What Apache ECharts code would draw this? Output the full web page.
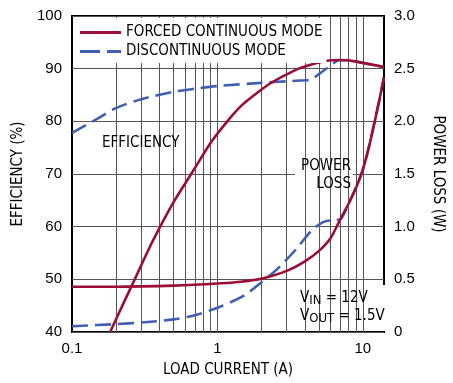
<!DOCTYPE html>
<html>
<head>
<meta charset="utf-8">
<script src="https://cdn.jsdelivr.net/npm/echarts@6/dist/echarts.min.js"></script>
<style>
  html, body { margin: 0; padding: 0; background: #fff; }
  #chart { width: 453px; height: 383px; }
</style>
</head>
<body>
<div id="chart"></div>
<script>
// efficiency / power loss vs load current
var NARROW = "'DejaVu Sans Condensed', 'Liberation Sans Narrow', sans-serif";
var REGULAR = "'Liberation Sans', Arial, sans-serif";

// forced continuous mode
var fccmEffCurrent = [0.183, 0.27, 0.404, 0.66, 1.17, 2, 3, 4.2, 7, 10, 14];
var fccmEff        = [40, 50, 60, 70, 80, 86, 88.9, 90.6, 91.65, 91.1, 90.3];
var fccmLossCurrent = [0.1, 0.2, 0.5, 1, 1.5, 2, 3, 4, 5, 6, 7, 8, 9, 10, 11, 12, 13, 14];
var fccmLoss        = [0.43, 0.43, 0.44, 0.46, 0.48, 0.505, 0.58, 0.67, 0.77, 0.89, 1.07, 1.22, 1.37, 1.54, 1.75, 1.98, 2.2, 2.42];

// discontinuous mode (joins the forced curves above ~7A)
var dcmEffCurrent = [0.1, 0.15, 0.2, 0.3, 0.5, 0.7, 1, 2, 3, 4, 4.4, 4.8, 5.3, 5.9, 6.9, 8, 10, 14];
var dcmEff        = [77.8, 80.5, 82.5, 84.2, 85.6, 86.2, 86.7, 87.3, 87.6, 87.8, 87.9, 88.6, 89.5, 90.4, 91.6, 91.6, 91.1, 90.3];
var dcmLossCurrent = [0.1, 0.2, 0.3, 0.5, 0.7, 1, 1.5, 2, 2.5, 3, 3.5, 4, 4.5, 5, 5.5, 6, 6.5, 7, 8, 10, 12, 14];
var dcmLoss        = [0.055, 0.075, 0.09, 0.12, 0.16, 0.23, 0.34, 0.47, 0.58, 0.69, 0.79, 0.89, 0.97, 1.02, 1.05, 1.06, 1.065, 1.07, 1.22, 1.54, 1.98, 2.42];

// vertical grid lines (log decades)
var gridCurrents = [0.2, 0.3, 0.4, 0.5, 0.6, 0.7, 0.8, 0.9, 1, 2, 3, 4, 5, 6, 7, 8, 9, 10];

function pairs(xs, ys) {
  return xs.map(function (x, i) { return [x, ys[i]]; });
}

var RED = '#9b0c36';
var BLUE = '#3f5fb3';
var GRID = '#555';

var myChart = echarts.init(document.getElementById('chart'));
var option = {
  animation: false,
  textStyle: { fontFamily: NARROW },
  grid: {
    left: 72, right: 65, top: 16, bottom: 50,
    show: true, borderColor: '#000', borderWidth: 2, backgroundColor: 'transparent'
  },
  legend: {
    orient: 'vertical',
    left: 74, top: 18,
    padding: [7, 4, 4, 6],
    itemGap: 4,
    itemWidth: 41, itemHeight: 3,
    backgroundColor: '#fff',
    z: 12,
    textStyle: { fontFamily: NARROW, fontSize: 15, color: '#000' },
    data: [
      { name: 'FORCED CONTINUOUS MODE', icon: 'path://M0,0H41V3H0Z' },
      { name: 'DISCONTINUOUS MODE', icon: 'path://M0,0H20V3H0Z M27,0H41V3H27Z' }
    ]
  },
  xAxis: {
    type: 'log', logBase: 10, min: 0.1, max: 14,
    name: 'LOAD CURRENT (A)', nameLocation: 'middle', nameGap: 31,
    nameTextStyle: { fontFamily: NARROW, fontSize: 15, color: '#000' },
    axisLine: { show: false }, axisTick: { show: false }, splitLine: { show: false },
    axisLabel: {
      margin: 9, fontFamily: REGULAR, fontSize: 15, color: '#000',
      formatter: function (v) {
        var l = Math.log10(v);
        return Math.abs(l - Math.round(l)) < 1e-6 ? String(+v.toPrecision(3)) : '';
      }
    }
  },
  yAxis: [
    {
      type: 'value', min: 40, max: 100, interval: 10,
      name: 'EFFICIENCY (%)', nameLocation: 'middle', nameGap: 40, nameRotate: 90,
      nameTextStyle: { fontFamily: NARROW, fontSize: 15, color: '#000' },
      axisLine: { show: false }, axisTick: { show: false },
      splitLine: { show: true, lineStyle: { color: GRID, width: 1 } },
      axisLabel: { margin: 10, fontFamily: REGULAR, fontSize: 15, color: '#000' }
    },
    {
      type: 'value', min: 0, max: 3, interval: 0.5, position: 'right',
      name: 'POWER LOSS (W)', nameLocation: 'middle', nameGap: 46, nameRotate: -90,
      nameTextStyle: { fontFamily: NARROW, fontSize: 15, color: '#000' },
      axisLine: { show: false }, axisTick: { show: false }, splitLine: { show: false },
      axisLabel: {
        margin: 10, fontFamily: REGULAR, fontSize: 15, color: '#000',
        formatter: function (v) { return v === 0 ? '0' : v.toFixed(1); }
      }
    }
  ],
  graphic: [
    { type: 'rect', z: 5, shape: { x: 98, y: 133, width: 86, height: 20 }, style: { fill: '#fff' } },
    { type: 'text', z: 6, x: 102, y: 143,
      style: { text: 'EFFICIENCY', fontFamily: NARROW, fontSize: 15, fill: '#000', verticalAlign: 'middle' } },
    { type: 'rect', z: 5, shape: { x: 295, y: 152, width: 58, height: 43 }, style: { fill: '#fff' } },
    { type: 'text', z: 6, x: 351, y: 157,
      style: { text: 'POWER\nLOSS', fontFamily: NARROW, fontSize: 15, lineHeight: 18, fill: '#000', align: 'right', verticalAlign: 'top' } },
    { type: 'rect', z: 5, shape: { x: 296, y: 285, width: 91, height: 46 }, style: { fill: '#fff' } },
    { type: 'text', z: 6, x: 300, y: 289,
      style: {
        text: 'V{sub|IN} = 12V\nV{sub|OUT} = 1.5V',
        fontFamily: NARROW, fontSize: 15, fill: '#000', verticalAlign: 'top',
        rich: {
          sub: { fontFamily: NARROW, fontSize: 13, fill: '#000', padding: [5, 0, 0, 0], verticalAlign: 'top' }
        }
      } }
  ],
  series: [
    {
      name: 'grid', type: 'line', z: 1, data: [[0.1, 40]], symbol: 'none', silent: true,
      lineStyle: { opacity: 0 },
      markLine: {
        silent: true, symbol: ['none', 'none'], label: { show: false },
        lineStyle: { color: GRID, width: 1, type: 'solid' },
        data: gridCurrents.map(function (c) { return { xAxis: c }; })
      }
    },
    {
      name: 'DISCONTINUOUS MODE', type: 'line', z: 10, yAxisIndex: 0,
      data: pairs(dcmEffCurrent, dcmEff), symbol: 'none', smooth: 0.3,
      lineStyle: { color: BLUE, width: 2.6, type: [16, 7] }, itemStyle: { color: BLUE }
    },
    {
      name: 'DISCONTINUOUS MODE', type: 'line', z: 10, yAxisIndex: 1,
      data: pairs(dcmLossCurrent, dcmLoss), symbol: 'none', smooth: 0.3,
      lineStyle: { color: BLUE, width: 2.6, type: [16, 7] }, itemStyle: { color: BLUE }
    },
    {
      name: 'FORCED CONTINUOUS MODE', type: 'line', z: 11, yAxisIndex: 0,
      data: pairs(fccmEffCurrent, fccmEff), symbol: 'none', smooth: 0.5,
      lineStyle: { color: RED, width: 2.6 }, itemStyle: { color: RED }
    },
    {
      name: 'FORCED CONTINUOUS MODE', type: 'line', z: 11, yAxisIndex: 1,
      data: pairs(fccmLossCurrent, fccmLoss), symbol: 'none', smooth: 0.3,
      lineStyle: { color: RED, width: 2.6 }, itemStyle: { color: RED }
    }
  ]
};
myChart.setOption(option);
</script>
</body>
</html>
